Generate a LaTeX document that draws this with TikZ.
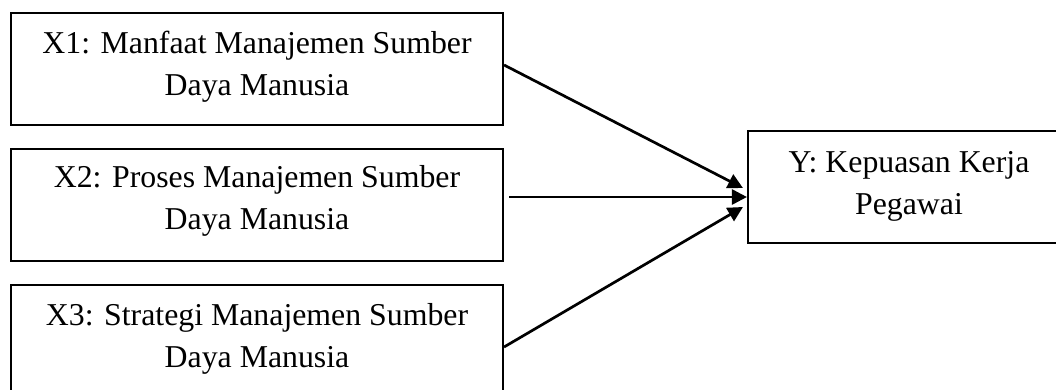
\documentclass[tikz,border=0pt]{standalone}
\usepackage{fontspec}
\setmainfont{Liberation Serif}
\usetikzlibrary{arrows.meta}
\begin{document}
\begin{tikzpicture}[x=1pt,y=-1pt,
  box/.style={draw=black,line width=2.1pt,minimum width=492pt,minimum height=112pt,inner sep=0pt},
  ybox/.style={draw=black,line width=2.1pt,minimum width=322pt,minimum height=112pt,inner sep=0pt},
  txt/.style={anchor=base,inner sep=0pt,font=\fontsize{31.8}{40}\selectfont},
  conn/.style={line width=2.7pt,-{Triangle[length=15pt,width=15pt]}}]
\clip (0,0) rectangle (1056,389);
\fill[white] (0,0) rectangle (1056,389);
% boxes
\node[box] (x1) at (257,69) {};
\node[box] (x2) at (257,205) {};
\node[box] (x3) at (257,341) {};
\node[ybox] (y) at (909,187) {};
% texts
\node[txt] (t1a) at (257,53) {X1: Manfaat Manajemen Sumber};
\node[txt] (t1b) at (257,95) {Daya Manusia};
\node[txt] (t2a) at (257,187) {X2: Proses Manajemen Sumber};
\node[txt] (t2b) at (257,229) {Daya Manusia};
\node[txt] (t3a) at (257,325) {X3: Strategi Manajemen Sumber};
\node[txt] (t3b) at (257,367) {Daya Manusia};
\node[txt] (tya) at (909,172) {Y: Kepuasan Kerja};
\node[txt] (tyb) at (909,214) {Pegawai};
% connectors
\draw[conn] ([yshift=4pt]x1.east) -- ([xshift=-4pt,yshift=-1pt]y.west);
\draw[conn] ([xshift=5pt,yshift=8pt]x2.east) -- ([yshift=-10pt]y.west);
\draw[conn] ([yshift=-6pt]x3.east) -- ([xshift=-4pt,yshift=-20pt]y.west);
\end{tikzpicture}
\end{document}
